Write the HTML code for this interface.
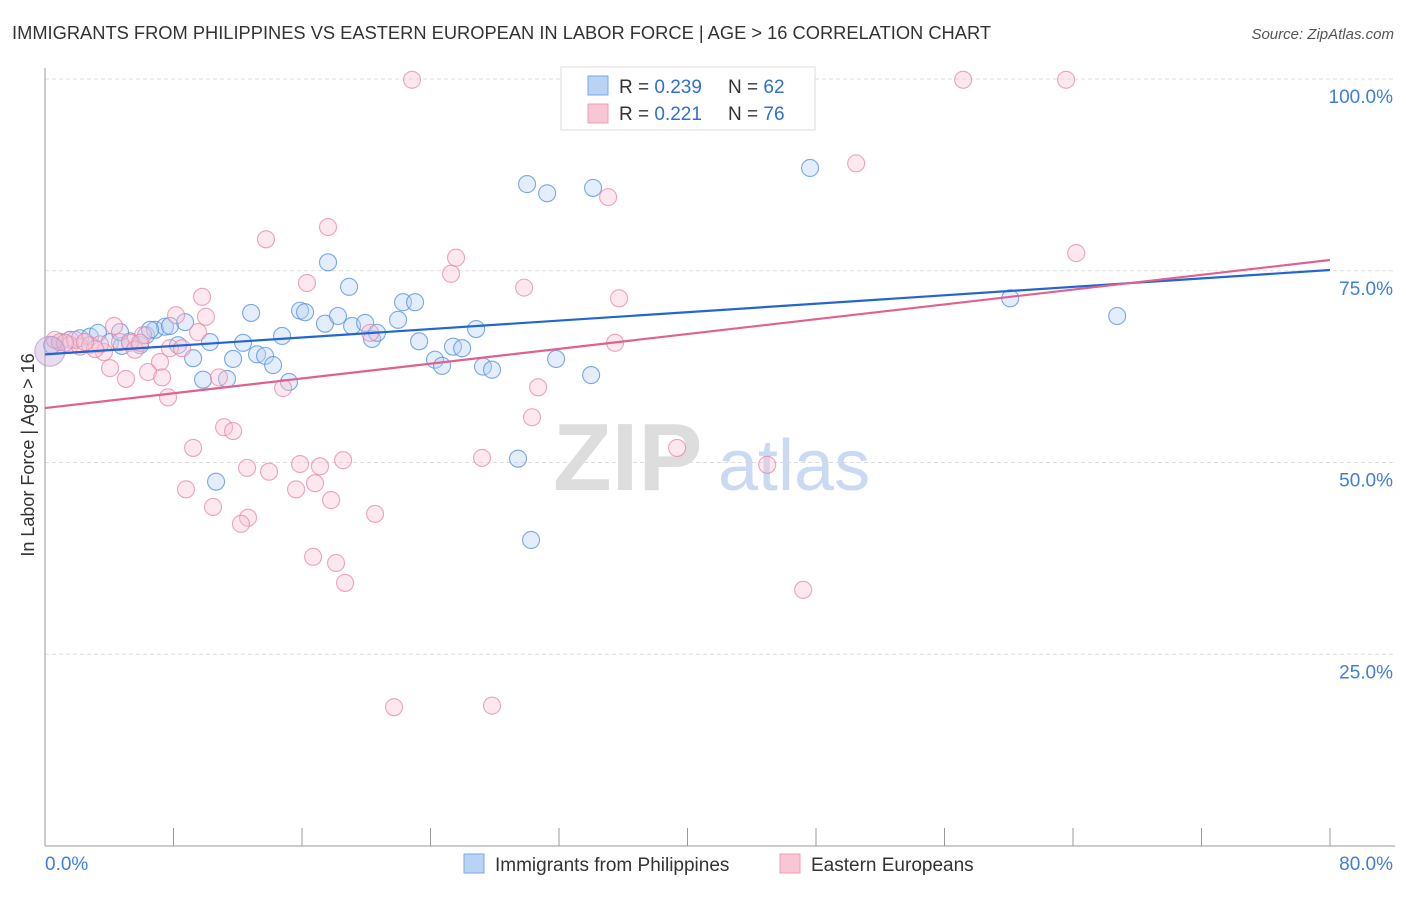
<!DOCTYPE html>
<html><head><meta charset="utf-8"><style>
body{margin:0;background:#fff;font-family:"Liberation Sans",sans-serif;}
svg text{font-family:"Liberation Sans",sans-serif;}
</style></head><body>
<svg id="chart" width="1406" height="892">
<text x="12" y="39" font-size="18" fill="#333" textLength="979" lengthAdjust="spacingAndGlyphs">IMMIGRANTS FROM PHILIPPINES VS EASTERN EUROPEAN IN LABOR FORCE | AGE &gt; 16 CORRELATION CHART</text>
<text x="1394" y="39" font-size="15" fill="#555" text-anchor="end" font-style="italic">Source: ZipAtlas.com</text>
<text x="0" y="0" transform="translate(34,455) rotate(-90)" font-size="18" fill="#333" text-anchor="middle">In Labor Force | Age &gt; 16</text>
<g>
<text x="553" y="490" font-size="96" fill="#ddd" font-family="Liberation Serif" font-weight="bold">ZIP</text>
<text x="718" y="490" font-size="72" fill="#c9daf2">atlas</text>
</g>
<g id="grid"></g><g id="axes"></g><g id="pts"></g><g id="lines"></g>
<g>
<rect x="561" y="67" width="254" height="63" fill="#fff" stroke="#ddd"/>
<rect x="588" y="76" width="20" height="19" fill="#b8d3f5" stroke="#7ba7e0"/>
<text x="619" y="93" font-size="19" fill="#333">R = <tspan fill="#2f6fd0">0.239</tspan></text>
<text x="728" y="93" font-size="19" fill="#333">N = <tspan fill="#2f6fd0">62</tspan></text>
<rect x="588" y="104" width="20" height="19" fill="#f8c6d4" stroke="#eba0b6"/>
<text x="619" y="120" font-size="19" fill="#333">R =  <tspan fill="#2f6fd0">0.221</tspan></text>
<text x="728" y="120" font-size="19" fill="#333">N = <tspan fill="#2f6fd0">76</tspan></text>
</g>
<g>
<rect x="464" y="854" width="20" height="19" fill="#b8d3f5" stroke="#7ba7e0"/>
<text x="495" y="871" font-size="19" fill="#333">Immigrants from Philippines</text>
<rect x="780" y="854" width="20" height="19" fill="#f8c6d4" stroke="#eba0b6"/>
<text x="811" y="871" font-size="19" fill="#333">Eastern Europeans</text>
</g>
</svg>
<script>
const blueX=[0.44,0.93,1.56,2.18,2.8,3.3,4.05,4.79,5.29,5.92,6.29,6.85,7.47,7.78,8.72,8.28,9.22,9.84,10.27,11.33,11.71,12.33,12.83,13.2,13.7,14.2,14.76,15.19,15.88,16.19,17.43,17.62,18.24,18.93,19.12,19.93,20.36,20.67,21.98,22.29,23.04,23.29,24.28,24.72,25.4,25.97,26.84,27.27,27.83,29.45,30.01,30.26,31.26,31.82,34.0,34.12,47.63,60.09,66.75,10.65,4.67,6.54];
const blueY=[65.3,65.7,66.0,66.2,66.4,66.9,65.7,65.2,65.8,65.3,66.6,67.3,67.7,67.8,68.3,65.3,63.6,60.8,65.7,60.9,63.5,65.6,69.5,64.1,63.9,62.7,66.5,60.5,69.8,69.6,68.1,76.1,69.1,72.9,67.8,68.2,66.1,66.9,68.6,70.9,70.9,65.8,63.4,62.6,65.1,64.9,67.4,62.5,62.1,50.5,86.3,39.9,85.1,63.5,61.4,85.8,88.4,71.4,69.1,47.5,67.0,67.3];
const pinkX=[22.85,57.16,63.57,50.5,35.06,17.62,13.76,64.2,25.59,25.28,16.31,29.83,9.78,35.74,8.16,10.02,4.3,9.53,6.1,20.24,35.49,7.78,8.53,3.67,4.05,5.04,7.16,6.41,7.29,7.66,10.83,14.82,30.7,30.32,11.15,11.71,9.22,39.35,44.96,12.58,13.95,15.88,17.12,18.56,27.21,8.78,10.46,15.63,16.81,17.81,20.55,12.64,12.2,16.69,18.12,18.68,47.2,21.73,27.83,0.93,1.56,2.18,2.8,3.42,4.67,5.29,5.6,3.11,1.87,0.62,1.25,2.49,5.92];
const pinkY=[99.9,99.9,99.9,89.0,84.6,80.7,79.1,77.3,76.7,74.6,73.4,72.8,71.6,71.4,69.2,69.0,67.8,67.0,66.6,66.9,65.6,64.9,64.9,64.4,62.3,60.9,63.1,61.8,61.1,58.5,61.1,59.7,59.8,55.9,54.6,54.1,51.9,51.9,49.7,49.3,48.8,49.8,49.5,50.3,50.6,46.5,44.2,46.5,47.3,45.1,43.3,42.8,42.0,37.7,36.9,34.3,33.4,18.1,18.3,65.7,65.3,65.1,65.3,65.4,65.7,65.6,64.7,64.8,66.0,66.0,65.6,65.7,65.6];
const blueTrend=[64.1,75.1];
const pinkTrend=[57.1,76.4];
const yTicks=[100,75,50,25];
const xTickVals=[0,8,16,24,32,40,48,56,64,72,80];

const NS="http://www.w3.org/2000/svg";
const X=v=>45+v/80*1285;
const Y=v=>846-v/100*767;
function mk(parent,tag,attrs){const e=document.createElementNS(NS,tag);for(const k in attrs)e.setAttribute(k,attrs[k]);document.getElementById(parent).appendChild(e);return e;}

yTicks.forEach(t=>{
  const l=mk('grid','line',{x1:45,x2:1395,y1:Y(t),y2:Y(t),stroke:'#ddd','stroke-dasharray':'4,3'});
  
  
  const tx=mk('grid','text',{x:1393,y:Y(t)+24,'font-size':19,fill:'#3f7fd8','text-anchor':'end'});
  tx.textContent=t.toFixed(1)+'%';
  
  
});
const ax=mk('axes','line',{x1:45,x2:45,y1:68,y2:846,stroke:'#999'});


const bx=mk('axes','line',{x1:45,x2:1395,y1:846,y2:846,stroke:'#999'});


xTickVals.forEach(v=>{
  const t=mk('axes','line',{x1:X(v),x2:X(v),y1:828,y2:846,stroke:'#999'});
  
  
});
const xl0=mk('axes','text',{x:45,y:870,'font-size':19,fill:'#3f7fd8'});xl0.textContent='0.0%';


const xl1=mk('axes','text',{x:1393,y:870,'font-size':19,fill:'#3f7fd8','text-anchor':'end'});xl1.textContent='80.0%';



function pts(xs,ys,fill,stroke,name){
  xs.forEach((x,i)=>{
    const c=mk('pts','circle',{cx:X(x),cy:Y(ys[i]),r:8.5,fill:fill,'fill-opacity':0.4,stroke:stroke,'stroke-opacity':0.75,'stroke-width':1.1});
    
    
  });
}
pts(blueX,blueY,'#b8d3f5','#4f8ee0','philippines-point');
pts(pinkX,pinkY,'#f8c6d4','#e886a6','eastern-european-point');
const big1=mk('pts','circle',{cx:X(0.3),cy:Y(64.5),r:15,fill:'#c9b0d8','fill-opacity':0.45,stroke:'#b090c8','stroke-opacity':0.7});



const bl=mk('lines','line',{x1:X(0),y1:Y(blueTrend[0]),x2:X(80),y2:Y(blueTrend[1]),stroke:'#2366d1','stroke-width':2.2});


const pl=mk('lines','line',{x1:X(0),y1:Y(pinkTrend[0]),x2:X(80),y2:Y(pinkTrend[1]),stroke:'#e0608e','stroke-width':2.2});


</script>
</body></html>
